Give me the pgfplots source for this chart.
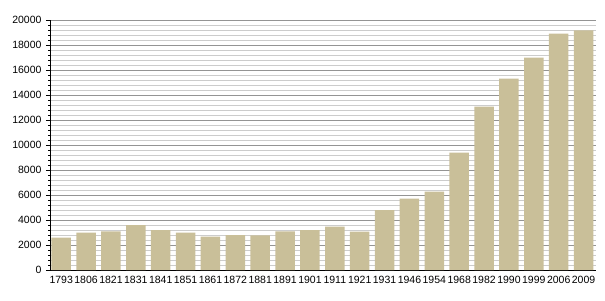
\documentclass[border=0pt]{standalone}
\usepackage{pgfplots}
\pgfplotsset{compat=1.18}
\usepackage{fontspec}
\setmainfont{Liberation Sans}
\definecolor{bartan}{RGB}{201,191,153}
\begin{document}
\begin{tikzpicture}
\useasboundingbox (-50pt,-30pt) rectangle (555pt,270pt);
\begin{axis}[
  scale only axis,
  width=546pt, height=250pt,
  xmin=-0.45, xmax=21.5,
  ymin=0, ymax=20000,
  axis x line*=bottom, axis y line*=left,
  xtick=data,
  xticklabels={1793,1806,1821,1831,1841,1851,1861,1872,1881,1891,1901,1911,1921,1931,1946,1954,1968,1982,1990,1999,2006,2009},
  x tick style={draw=none},
  ytick={0,2000,...,20000},
  minor y tick num=4,
  ymajorgrids, yminorgrids,
  major grid style={color=black!42, line width=0.7pt},
  minor grid style={color=black!20, line width=0.7pt},
  y tick style={black, line width=0.6pt},
  tick align=outside,
  major tick length=4pt,
  minor tick length=2pt,
  scaled y ticks=false,
  y tick label style={xshift=-1pt, /pgf/number format/fixed, /pgf/number format/1000 sep={}},
  /pgf/number format/assume math mode=true,
  tick label style={font=\fontsize{10.5}{11}\selectfont},
  xticklabel style={yshift=1pt},
  axis line style={black, line width=0.8pt},
  enlargelimits=false,
  clip=false,
]
\addplot[ybar, bar width=0.78, fill=bartan, draw=none] coordinates {
(0,2590) (1,2990) (2,3090) (3,3600) (4,3200) (5,3000) (6,2670) (7,2800)
(8,2770) (9,3090) (10,3200) (11,3470) (12,3070) (13,4800) (14,5710)
(15,6270) (16,9390) (17,13070) (18,15310) (19,16990) (20,18910) (21,19170)
};
\end{axis}
\end{tikzpicture}
\end{document}
